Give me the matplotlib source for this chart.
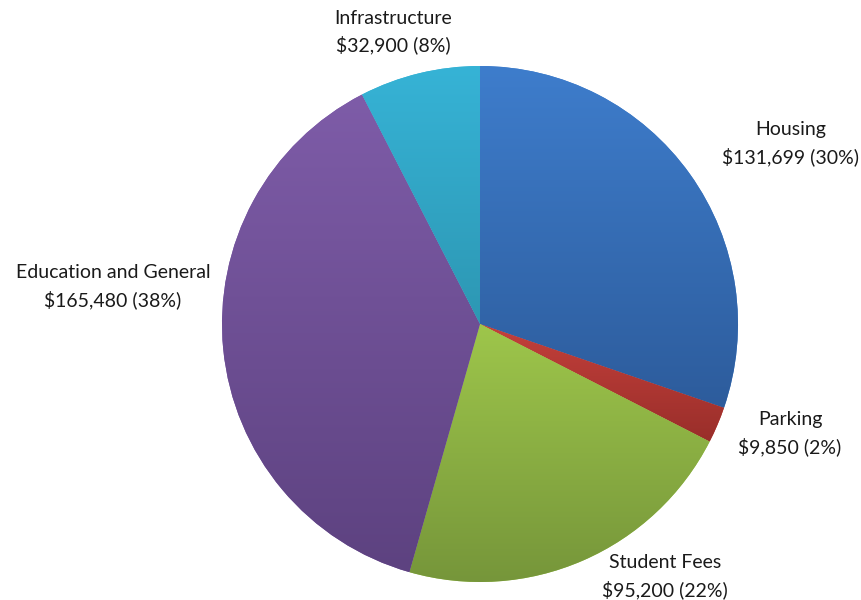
import matplotlib
matplotlib.use("Agg")
import matplotlib.pyplot as plt
import numpy as np
from matplotlib.colors import to_rgb

categories = ["Housing", "Parking", "Student Fees", "Education and General", "Infrastructure"]
values = [131699, 9850, 95200, 165480, 32900]
top_colors = ["#3E7DCC", "#C4403B", "#9EC64B", "#7E5CA8", "#36B3D6"]
bottom_colors = ["#2D5C9C", "#992E2A", "#76963A", "#5D4280", "#2D97B3"]

W, H = 861, 600
fig = plt.figure(figsize=(W / 100, H / 100), dpi=100)
ax = fig.add_axes([0, 0, 1, 1])

cx, cy, r = 480, H - 324, 258
wedges, _ = ax.pie(values, startangle=90, counterclock=False, center=(cx, cy),
                   radius=r, colors=top_colors, wedgeprops=dict(linewidth=0))
ax.set_xlim(0, W)
ax.set_ylim(0, H)
ax.set_aspect("equal")
ax.axis("off")

# vertical gradient per wedge
for w, ct, cb in zip(wedges, top_colors, bottom_colors):
    bb = w.get_path().get_extents(w.get_patch_transform())
    t = np.linspace(0, 1, 256)[:, None]
    c0 = np.array(to_rgb(ct)); c1 = np.array(to_rgb(cb))
    img = (c0[None, None, :] * (1 - t[..., None]) + c1[None, None, :] * t[..., None])
    img = np.repeat(img, 2, axis=1)
    im = ax.imshow(img, extent=(bb.x0, bb.x1, bb.y0, bb.y1), origin="upper",
                   aspect="auto", zorder=w.get_zorder() + 0.1, interpolation="bilinear")
    im.set_clip_path(w)

total = sum(values)
label_pos = [(791, 143), (790, 433), (665, 576), (113, 286), (393, 31)]
for name, v, (x, y) in zip(categories, values, label_pos):
    pct = v / total * 100
    ax.text(x, H - y + 13, name, ha="center", va="center", fontsize=14,
            family=["Lato", "DejaVu Sans"], color="#1A1A1A")
    ax.text(x, H - y - 14, f"${v:,} ({pct:.0f}%)", ha="center", va="center",
            fontsize=14, family=["Lato", "DejaVu Sans"], color="#1A1A1A")

ax.set_xlim(0, W)
ax.set_ylim(0, H)
fig.savefig("out.png", dpi=100)
